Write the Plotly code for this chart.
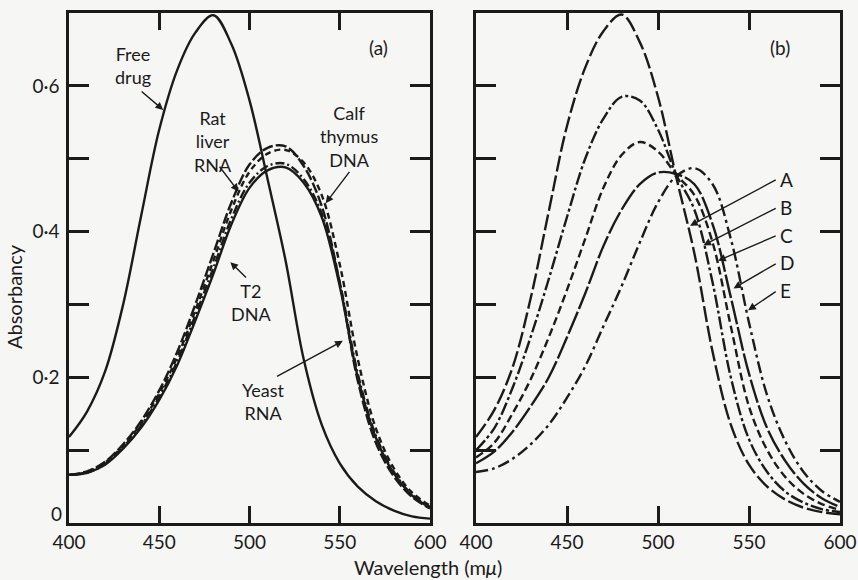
import plotly.graph_objects as go

# Wavelength grid (mμ)
wavelength = [400, 410, 420, 430, 440, 450, 460, 470, 480, 490, 500,
              510, 520, 530, 540, 550, 560, 570, 580, 590, 600]

# Panel (a)
free_drug = [0.118, 0.153, 0.208, 0.300, 0.422, 0.540, 0.622, 0.673, 0.697, 0.657, 0.580,
             0.472, 0.360, 0.225, 0.135, 0.082, 0.050, 0.030, 0.017, 0.009, 0.006]
rat_liver_rna = [0.066, 0.071, 0.084, 0.108, 0.140, 0.182, 0.235, 0.300, 0.370, 0.440, 0.492,
                 0.515, 0.517, 0.490, 0.435, 0.330, 0.195, 0.110, 0.064, 0.036, 0.020]
calf_thymus_dna = [0.066, 0.070, 0.083, 0.106, 0.137, 0.178, 0.228, 0.292, 0.360, 0.430, 0.482,
                   0.507, 0.512, 0.495, 0.450, 0.355, 0.225, 0.130, 0.075, 0.042, 0.024]
yeast_rna = [0.066, 0.069, 0.081, 0.104, 0.134, 0.173, 0.222, 0.285, 0.350, 0.418, 0.467,
             0.490, 0.493, 0.472, 0.425, 0.330, 0.205, 0.120, 0.070, 0.039, 0.022]
t2_dna = [0.066, 0.069, 0.080, 0.102, 0.131, 0.169, 0.217, 0.278, 0.342, 0.410, 0.460,
          0.484, 0.488, 0.467, 0.420, 0.325, 0.200, 0.117, 0.068, 0.038, 0.021]

# Panel (b)
curve_A = [0.118, 0.155, 0.213, 0.308, 0.428, 0.545, 0.625, 0.675, 0.698, 0.660, 0.585,
           0.475, 0.370, 0.235, 0.135, 0.080, 0.050, 0.032, 0.021, 0.015, 0.012]
curve_B = [0.100, 0.130, 0.185, 0.255, 0.335, 0.420, 0.500, 0.555, 0.585, 0.580, 0.540,
           0.478, 0.430, 0.330, 0.200, 0.115, 0.070, 0.043, 0.028, 0.019, 0.015]
curve_C = [0.090, 0.110, 0.150, 0.197, 0.255, 0.320, 0.390, 0.460, 0.505, 0.523, 0.510,
           0.478, 0.450, 0.385, 0.270, 0.160, 0.100, 0.063, 0.040, 0.026, 0.018]
curve_D = [0.082, 0.098, 0.125, 0.160, 0.200, 0.255, 0.315, 0.380, 0.430, 0.465, 0.481,
           0.479, 0.465, 0.410, 0.310, 0.205, 0.130, 0.085, 0.054, 0.034, 0.022]
curve_E = [0.070, 0.075, 0.088, 0.108, 0.135, 0.172, 0.215, 0.270, 0.325, 0.385, 0.440,
           0.476, 0.487, 0.465, 0.390, 0.275, 0.175, 0.112, 0.070, 0.044, 0.029]

y_tickvals = [0, 0.1, 0.2, 0.3, 0.4, 0.5, 0.6]
y_ticktext = ["", "", "0·2", "", "0·4", "", "0·6"]
zero_label = "0"
x_tickvals = [400, 450, 500, 550, 600]

INK = "#1b1b1b"
BG = "#f6f6f4"
FONT = "Lato"
LW = 2.4

fig = go.Figure()

left_series = [
    ("Free drug", free_drug, "solid"),
    ("Rat liver RNA", rat_liver_rna, "11px,3px"),
    ("Calf thymus DNA", calf_thymus_dna, "6px,4px"),
    ("Yeast RNA", yeast_rna, "9px,3px,2px,3px"),
    ("T2 DNA", t2_dna, "solid"),
]
for name, vals, dash in left_series:
    fig.add_trace(go.Scatter(x=wavelength, y=vals, name=name, mode="lines",
                             line=dict(color=INK, width=LW, dash=dash, shape="spline", smoothing=1.0),
                             xaxis="x", yaxis="y", showlegend=False))

right_series = [
    ("A", curve_A, "16px,4px"),
    ("B", curve_B, "13px,3px,3px,3px"),
    ("C", curve_C, "8px,4px"),
    ("D", curve_D, "24px,3px"),
    ("E", curve_E, "12px,4px,3px,4px"),
]
for name, vals, dash in right_series:
    fig.add_trace(go.Scatter(x=wavelength, y=vals, name=name, mode="lines",
                             line=dict(color=INK, width=LW, dash=dash, shape="spline", smoothing=1.0),
                             xaxis="x2", yaxis="y2", showlegend=False))

axis_common = dict(showline=True, linecolor=INK, linewidth=2.5, mirror="allticks",
                   ticks="inside", tickcolor=INK, tickwidth=2.5, showgrid=False, zeroline=False,
                   automargin=False,
                   tickfont=dict(family=FONT, size=19, color=INK))

fig.update_layout(
    width=858, height=580, autosize=False,
    margin=dict(l=0, r=0, t=0, b=0, autoexpand=False),
    paper_bgcolor=BG, plot_bgcolor=BG,
    font=dict(family=FONT, color=INK),
    xaxis=dict(domain=[69 / 858, 430 / 858], range=[400, 600], tickvals=x_tickvals,
               ticklen=17, anchor="y", ticklabelstandoff=0, **axis_common),
    yaxis=dict(domain=[57 / 580, 567 / 580], range=[0, 0.70], tickvals=y_tickvals,
               ticktext=y_ticktext, ticklen=20, anchor="x", ticklabelstandoff=3, **axis_common),
    xaxis2=dict(domain=[476 / 858, 840 / 858], range=[400, 600], tickvals=x_tickvals,
                ticklen=17, anchor="y2", ticklabelstandoff=0, **axis_common),
    yaxis2=dict(domain=[57 / 580, 567 / 580], range=[0, 0.70], tickvals=y_tickvals,
                ticklen=20, showticklabels=False, anchor="x2", **axis_common),
)

anns = []
def txt(x, y, text, xref="x", yref="y", size=18, xanchor="center"):
    anns.append(dict(x=x, y=y, xref=xref, yref=yref, text=text, showarrow=False,
                     font=dict(family=FONT, size=size, color=INK), xanchor=xanchor,
                     yanchor="middle", align="center", borderpad=0))

def arrow(tx, ty, ax, ay, xr="x", yr="y"):
    anns.append(dict(x=tx, y=ty, xref=xr, yref=yr, ax=ax, ay=ay, axref=xr, ayref=yr,
                     text="", showarrow=True, arrowhead=2, arrowsize=1.1, arrowwidth=1.4,
                     arrowcolor=INK, standoff=0, startstandoff=0))

# "0" label of the absorbancy axis, nudged like in the original
txt(56 / 858, 1 - 513 / 580, zero_label, xref="paper", yref="paper", size=19)

# Panel (a) labels
txt(435.6, 0.628, "Free<br>drug")
arrow(452.2, 0.567, 439.4, 0.594)
txt(480.0, 0.523, "Rat<br>liver<br>RNA")
arrow(493.9, 0.455, 482.8, 0.491)
txt(555.0, 0.530, "Calf<br>thymus<br>DNA")
arrow(542.2, 0.439, 556.0, 0.484)
txt(500.6, 0.303, "T2<br>DNA")
arrow(489.4, 0.358, 498.9, 0.335)
txt(507.8, 0.167, "Yeast<br>RNA")
arrow(551.7, 0.250, 514.4, 0.200)
txt(571.7, 0.652, "(a)", size=19)

# Panel (b) labels
txt(567.0, 0.652, "(b)", xref="x2", yref="y2", size=19)
labels_b = ["A", "B", "C", "D", "E"]
label_y = [0.472, 0.433, 0.395, 0.357, 0.319]
tips = [(517.6, 0.408), (524.9, 0.381), (533.0, 0.360), (541.5, 0.322), (549.5, 0.292)]
for lab, ly, (tx, ty) in zip(labels_b, label_y, tips):
    txt(566.5, ly, lab, xref="x2", yref="y2", xanchor="left", size=19)
    arrow(tx, ty, 565.5, ly, xr="x2", yr="y2")

# Axis titles
txt(14 / 858, 1 - 297 / 580, "Absorbancy", xref="paper", yref="paper", size=20)
anns[-1]["textangle"] = -90
txt(428 / 858, 1 - 567 / 580, "Wavelength (m<i>μ</i>)", xref="paper", yref="paper", size=20)

fig.update_layout(annotations=anns)
fig.write_html("out.html")
